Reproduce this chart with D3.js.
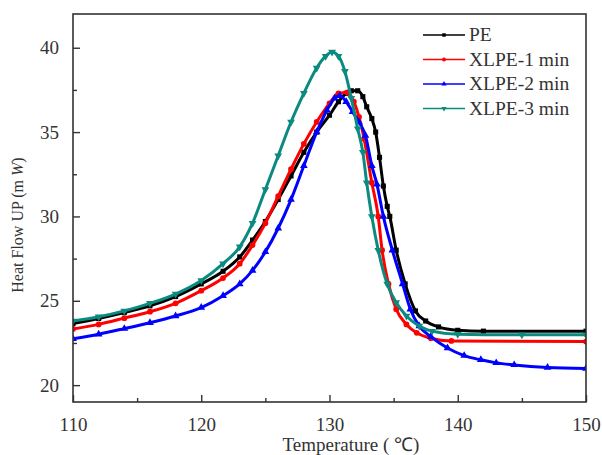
<!DOCTYPE html>
<html lang="en">
<head>
  <meta charset="utf-8">
  <title>DSC heat flow</title>
  <script type="text/javascript" src="https://d3js.org/d3.v7.min.js"></script>
  <style>
    body { margin: 0; background: #fff; }
  </style>
</head>
<body>
  <script type="text/javascript">
    // data
    var seriesNames = ["PE", "XLPE-1 min", "XLPE-2 min", "XLPE-3 min"];
    var seriesColors = ["#000000", "#ff0000", "#0000ff", "#0b8a7f"];
    var seriesSymbols = [d3.symbolSquare, d3.symbolCircle, d3.symbolTriangle, d3.symbolTriangle];

    var tempPE = [110, 112, 114, 116, 118, 120, 121.7, 123, 124, 125, 126, 127, 128, 129, 130, 130.7, 131.3, 131.7, 132.2, 132.6, 132.9, 133.3, 133.6, 133.9, 134.2, 134.5, 134.7, 135.2, 135.9, 136.7, 137.5, 138.5, 140, 142, 150];
    var flowPE = [23.65, 23.95, 24.3, 24.7, 25.25, 26.0, 26.75, 27.6, 28.6, 29.7, 31.0, 32.4, 33.8, 35.0, 36.0, 36.8, 37.3, 37.45, 37.45, 37.1, 36.5, 35.8, 35.0, 33.5, 31.8, 30.6, 30.0, 28.0, 26.0, 24.4, 23.8, 23.45, 23.25, 23.2, 23.2];

    var temp1 = [110, 112, 114, 116, 118, 120, 121.7, 123, 124, 125, 126, 127, 128, 129, 130, 130.7, 131.4, 131.9, 132.3, 132.7, 133.3, 133.8, 134.1, 134.6, 135.2, 136, 136.8, 137.9, 139.5, 150];
    var flow1 = [23.33, 23.6, 23.97, 24.35, 24.85, 25.6, 26.35, 27.2, 28.3, 29.6, 31.2, 32.8, 34.3, 35.6, 36.7, 37.3, 37.35, 36.8, 35.9, 34.6, 32.0, 30.0, 28.0, 26.0, 24.5, 23.6, 23.1, 22.78, 22.62, 22.58];

    var temp2 = [110, 112, 114, 116, 118, 120, 121.7, 123, 124, 125, 126, 127, 128, 129, 129.8, 130.4, 130.8, 131.3, 131.8, 132.3, 132.8, 133.3, 133.7, 134.2, 134.9, 135.7, 136.3, 137, 137.9, 139.2, 140.5, 141.8, 143, 144.4, 147, 150];
    var flow2 = [22.75, 23.02, 23.35, 23.7, 24.1, 24.6, 25.3, 26.0, 26.8, 27.9, 29.3, 31.0, 33.0, 35.0, 36.3, 37.0, 37.15, 36.8, 36.2, 35.6, 34.8, 33.0, 31.9, 30.0, 28.0, 26.0, 24.5, 23.5, 22.87, 22.2, 21.75, 21.5, 21.32, 21.2, 21.05, 20.99];

    var temp3 = [110, 112, 114, 116, 118, 120, 121.7, 123, 124, 125, 126, 127, 128, 129, 129.7, 130.2, 130.7, 131.2, 131.7, 132.2, 132.6, 132.9, 133.3, 133.8, 134.5, 135.2, 136, 137, 138, 140, 145, 150];
    var flow3 = [23.8, 24.05, 24.4, 24.85, 25.4, 26.2, 27.2, 28.2, 29.6, 31.6, 33.6, 35.6, 37.3, 38.8, 39.5, 39.75, 39.5, 38.6, 37.0, 35.2, 33.8, 32.0, 30.0, 28.0, 26.0, 24.9, 24.1, 23.5, 23.2, 23.02, 22.98, 22.98];

    var xTicks = [110, 120, 130, 140, 150];
    var xMinorTicks = [115, 125, 135, 145];
    var yTicks = [20, 25, 30, 35, 40];
    var yMinorTicks = [22.5, 27.5, 32.5, 37.5];

    var allTemps = [tempPE, temp1, temp2, temp3];
    var allFlows = [flowPE, flow1, flow2, flow3];

    var serifFont = "'Liberation Serif'";

    var w = 602;
    var h = 455;
    var margin = { top: 14, right: 16, bottom: 53, left: 73 };
    var iw = w - margin.left - margin.right;
    var ih = h - margin.top - margin.bottom;

    var svg = d3.select("body").append("svg")
      .attr("width", w)
      .attr("height", h)
      .style("background-color", "#ffffff");

    var x = d3.scaleLinear().domain([110, 150]).range([0, iw]);
    var y = d3.scaleLinear().domain([19, 42]).range([ih, 0]);

    var g = svg.append("g")
      .attr("transform", "translate(" + margin.left + "," + margin.top + ")");

    g.append("clipPath").attr("id", "plotclip")
      .append("rect").attr("width", iw).attr("height", ih);

    // curves
    var line = d3.line()
      .x(function(d) { return x(d[0]); })
      .y(function(d) { return y(d[1]); })
      .curve(d3.curveMonotoneX);

    var plot = g.append("g").attr("clip-path", "url(#plotclip)");

    seriesNames.forEach(function(name, i) {
      var pts = allTemps[i].map(function(t, j) { return [t, allFlows[i][j]]; });
      plot.append("path")
        .datum(pts)
        .attr("fill", "none")
        .attr("stroke", seriesColors[i])
        .attr("stroke-width", 3)
        .attr("d", line);
      plot.selectAll(".m" + i)
        .data(pts)
        .enter()
        .append("path")
        .attr("class", "m" + i)
        .attr("d", d3.symbol().type(seriesSymbols[i]).size(26))
        .attr("fill", seriesColors[i])
        .attr("transform", function(d) {
          return "translate(" + x(d[0]) + "," + y(d[1]) + ")" + (i === 3 ? " rotate(180)" : "");
        });
    });

    // axes with inward ticks
    var xAxis = g.append("g")
      .attr("transform", "translate(0," + ih + ")")
      .call(d3.axisBottom(x).tickValues(xTicks).tickSize(-7).tickPadding(16).tickFormat(d3.format("d")));
    var xMinor = g.append("g")
      .attr("transform", "translate(0," + ih + ")")
      .call(d3.axisBottom(x).tickValues(xMinorTicks).tickSize(-4).tickFormat(""));

    var yAxis = g.append("g")
      .call(d3.axisLeft(y).tickValues(yTicks).tickSize(-7).tickPadding(14).tickFormat(d3.format("d")));
    var yMinor = g.append("g")
      .call(d3.axisLeft(y).tickValues(yMinorTicks).tickSize(-4).tickFormat(""));

    [xAxis, xMinor, yAxis, yMinor].forEach(function(a) {
      a.attr("font-family", null).attr("font-size", null);
      a.select(".domain").remove();
      a.selectAll("line").attr("stroke", "#333").attr("stroke-width", 1.4);
      a.selectAll("text")
        .style("font-family", serifFont)
        .attr("font-size", 19)
        .attr("fill", "#333");
    });

    // frame
    g.append("rect")
      .attr("width", iw)
      .attr("height", ih)
      .attr("fill", "none")
      .attr("stroke", "#333")
      .attr("stroke-width", 1.6);

    // axis titles
    svg.append("text")
      .attr("x", 351)
      .attr("y", 451)
      .attr("text-anchor", "middle")
      .style("font-family", serifFont)
      .attr("font-size", 19)
      .attr("fill", "#333")
      .text("Temperature ( \u2103)");

    var yt = svg.append("text")
      .attr("transform", "translate(23,225) rotate(-90)")
      .attr("text-anchor", "middle")
      .style("font-family", serifFont)
      .attr("font-size", 16)
      .attr("fill", "#333");
    yt.append("tspan").text("Heat Flow UP (m ");
    yt.append("tspan").attr("font-style", "italic").text("W");
    yt.append("tspan").text(")");

    // legend
    var legend = svg.append("g").attr("transform", "translate(423,35)");
    seriesNames.forEach(function(name, i) {
      var row = legend.append("g").attr("transform", "translate(0," + (i * 24.5) + ")");
      row.append("line")
        .attr("x1", 0).attr("x2", 42)
        .attr("stroke", seriesColors[i])
        .attr("stroke-width", 1.6);
      row.append("path")
        .attr("d", d3.symbol().type(seriesSymbols[i]).size(12))
        .attr("fill", seriesColors[i])
        .attr("transform", "translate(21,0)" + (i === 3 ? " rotate(180)" : ""));
      row.append("text")
        .attr("x", 46)
        .attr("y", 6)
        .style("font-family", serifFont)
        .attr("font-size", 19.5)
        .attr("fill", "#333")
        .text(name);
    });
  </script>
</body>
</html>
